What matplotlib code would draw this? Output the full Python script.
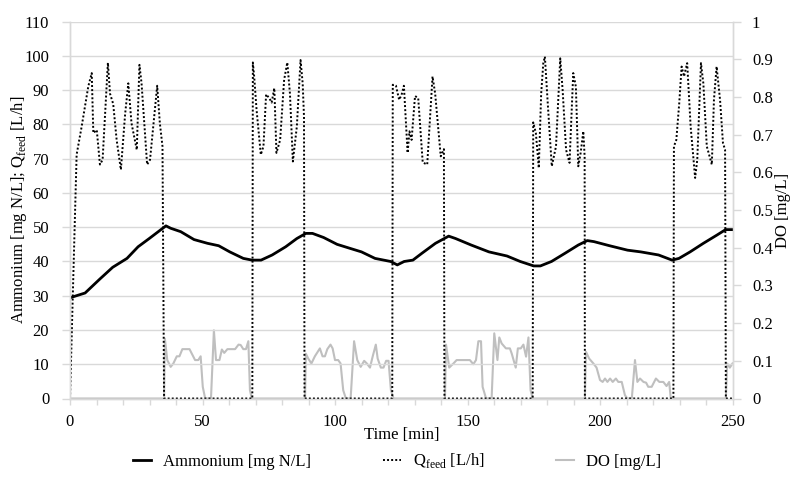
import matplotlib
matplotlib.use("Agg")
import matplotlib.pyplot as plt
from matplotlib.ticker import MultipleLocator, FuncFormatter

plt.rcParams['font.family'] = ['Liberation Serif', 'DejaVu Serif']
plt.rcParams['mathtext.fontset'] = 'custom'
plt.rcParams['mathtext.rm'] = 'Liberation Serif'
plt.rcParams['font.size'] = 12

# ---- data ----
amm_t = [0, 2, 5.7, 11.3, 16.1, 21.5, 25.7, 29.9, 33.3, 36.2, 38.0, 41.8, 46.8, 51.9, 56.1,
         60.3, 65.4, 68.7, 72.1, 76.3, 81.4, 85.6, 89.0, 91.5, 95.7, 100.8, 105.8, 110.0,
         115.1, 121.0, 123.5, 126.1, 129.4, 132.8, 137.9, 142.9, 145.5, 151.4, 158.1, 164.9,
         169.9, 175.0, 177.5, 181.7, 186.8, 191.8, 195.2, 197.7, 203.6, 210.4, 215.4, 222.1,
         227.2, 229.8, 234.0, 239.0, 244.1, 247.4, 250]
amm_v = [29.4, 29.9, 30.8, 34.9, 38.3, 40.9, 44.3, 46.7, 48.7, 50.4, 49.7, 48.7, 46.4, 45.3, 44.6,
         42.8, 40.9, 40.4, 40.4, 41.9, 44.3, 46.7, 48.2, 48.2, 47.0, 45.0, 43.8, 42.8,
         40.9, 40.0, 39.0, 40.0, 40.4, 42.4, 45.3, 47.4, 46.7, 44.8, 42.8, 41.6,
         40.0, 38.7, 38.7, 40.0, 42.4, 44.8, 46.1, 45.8, 44.6, 43.3, 42.8, 41.9,
         40.4, 40.9, 42.8, 45.3, 47.7, 49.3, 49.3]

q_t = [0, 2.5, 4.4, 6.9, 8.2, 8.8, 10.1, 11.3, 12.3, 14.3, 15.1, 16.3, 17.6, 19.2, 20.8, 22.0,
       23.2, 25.2, 26.2, 27.0, 29.1, 30.2, 32.9, 33.9, 34.9, 35.5,
       68.8, 69.0, 69.5, 70.4, 72.0, 73.0, 74.0, 75.2, 76.1, 77.1, 77.9, 79.3, 80.8, 82.0, 83.0,
       84.1, 85.6, 87.0, 87.8, 88.3, 88.5,
       121.6, 121.8, 123.0, 124.2, 125.1, 126.0, 127.4, 128.1, 128.9, 130.2, 131.4, 133.1, 134.8,
       136.8, 137.8, 139.9, 141.1, 141.3,
       174.6, 174.8, 175.8, 176.9, 177.8, 178.6, 179.2, 180.2, 181.8, 183.4, 185.0, 185.9, 187.2,
       188.5, 189.9, 190.9, 191.8, 192.7, 193.7, 194.2, 194.3,
       227.7, 227.9, 228.8, 229.9, 230.8, 231.7, 232.3, 232.9, 234.2, 235.9, 236.7, 238.1, 239.0,
       240.3, 242.2, 243.0, 244.0, 245.3, 246.4, 247.2, 247.5, 250]
q_v = [0, 71.2, 79.4, 91.1, 95.0, 77.5, 78.4, 68.3, 69.7, 98.0, 89.0, 86.0, 75.5, 66.8, 83.0, 92.0,
       80.4, 72.6, 97.4, 92.0, 68.3, 69.7, 91.3, 80.4, 73.6, 0,
       0, 98.1, 94.0, 84.3, 71.2, 73.6, 88.8, 87.7, 86.4, 90.6, 71.7, 75.5, 93.0, 98.1, 89.0,
       69.2, 79.4, 98.8, 92.0, 82.3, 0,
       0, 91.6, 91.3, 87.2, 88.6, 91.3, 71.7, 78.0, 75.5, 88.3, 87.7, 68.9, 68.3,
       94.0, 89.0, 70.7, 72.8, 0,
       0, 80.6, 77.5, 67.3, 89.0, 97.9, 99.8, 87.2, 67.8, 73.6, 99.3, 90.0, 72.6,
       68.8, 95.0, 91.0, 67.8, 71.7, 78.0, 70.7, 0,
       0, 73.6, 75.5, 86.2, 96.9, 94.0, 96.0, 97.9, 79.4, 64.4, 69.7, 97.9, 92.0,
       73.6, 68.3, 87.2, 96.9, 87.2, 74.6, 72.6, 0, 0]

do_t = [0, 35.5, 35.8, 36.7, 38.0, 39.0, 40.3, 41.3, 42.4, 45.1, 47.2, 48.4, 49.3, 50.1, 51.0,
        53.2, 54.3, 55.1, 56.4, 57.3, 58.2, 59.4, 62.3, 63.6, 64.4, 65.4, 66.4, 67.3, 67.9, 68.6,
        88.7, 89.0, 89.9, 91.1, 92.4, 94.3, 95.3, 96.2, 97.1, 98.3, 99.1, 100.0, 101.2, 102.1,
        103.1, 104.1, 105.9, 107.2, 108.4, 109.7, 111.0, 112.0, 113.2, 114.2, 115.4, 116.1,
        117.3, 118.3, 119.3, 120.2, 121.1, 122.1,
        141.5, 141.9, 143.1, 144.7, 145.9, 150.9, 152.2, 153.2, 154.1, 155.1, 155.7, 157.0,
        159.1, 160.1, 161.3, 162.0, 162.9, 164.5, 166.0, 166.7, 168.2, 169.0, 170.1, 171.1,
        172.1, 173.0, 173.8, 174.6,
        194.3, 194.7, 195.9, 197.5, 198.7, 200.0, 201.0, 201.9, 202.8, 203.8, 204.8, 206.0,
        206.9, 208.2, 209.4, 210.3, 212.0, 213.2, 214.1, 215.1, 216.4, 217.4, 218.2, 219.5,
        221.1, 222.4, 223.9, 225.1, 226.1, 226.7,
        247.5, 248.0, 249.0, 250]
do_v = [0, 0, 0.159, 0.102, 0.084, 0.093, 0.112, 0.112, 0.131, 0.131, 0.102, 0.102, 0.112, 0.031, 0,
        0, 0.181, 0.102, 0.102, 0.130, 0.121, 0.131, 0.131, 0.143, 0.142, 0.131, 0.131, 0.152, 0.022, 0,
        0, 0.119, 0.106, 0.093, 0.112, 0.133, 0.112, 0.112, 0.131, 0.143, 0.133, 0.102, 0.102, 0.093,
        0.022, 0, 0, 0.152, 0.102, 0.084, 0.100, 0.093, 0.082, 0.111, 0.143, 0.106,
        0.082, 0.082, 0.100, 0.100, 0.022, 0,
        0, 0.143, 0.082, 0.093, 0.102, 0.102, 0.091, 0.102, 0.152, 0.152, 0.031, 0,
        0, 0.173, 0.102, 0.162, 0.146, 0.133, 0.133, 0.119, 0.082, 0.133, 0.133, 0.143,
        0.111, 0.162, 0.022, 0,
        0, 0.124, 0.106, 0.093, 0.082, 0.049, 0.044, 0.053, 0.044, 0.053, 0.044, 0.053,
        0.044, 0.044, 0.009, 0, 0, 0.102, 0.044, 0.053, 0.044, 0.042, 0.031, 0.031,
        0.053, 0.044, 0.044, 0.033, 0.044, 0,
        0, 0.093, 0.082, 0.093]

x_ticks = [0, 50, 100, 150, 200, 250]
left_ticks = list(range(0, 111, 10))
right_ticks = [i / 10 for i in range(11)]

grid_c = '#d9d9d9'
txt_c = '#000000'

W, H = 790, 487
fig = plt.figure(figsize=(W / 100, H / 100), dpi=100)
x0, x1, y0, y1 = 70, 732.5, 398.5, 21.7
ax = fig.add_axes([x0 / W, 1 - y0 / H, (x1 - x0) / W, (y0 - y1) / H])
ax2 = ax.twinx()
ax.set_zorder(ax2.get_zorder() + 1)
ax.patch.set_visible(False)

l_do, = ax2.plot(do_t, do_v, color='#bfbfbf', lw=1.5, label='DO [mg/L]')
l_q, = ax.plot(q_t, q_v, color='black', lw=1.4, linestyle=(0, (1, 1.1)),
               label=r'Q$_{\mathregular{feed}}$ [L/h]')
l_a, = ax.plot(amm_t, amm_v, color='black', lw=2.0, label='Ammonium [mg N/L]')

ax.set_xlim(0, 250)
ax.set_ylim(0, 110)
ax2.set_ylim(0, 1)
ax.set_xticks(x_ticks)
ax.xaxis.set_minor_locator(MultipleLocator(10))
ax.set_yticks(left_ticks)
ax2.set_yticks(right_ticks)
ax2.yaxis.set_major_formatter(FuncFormatter(lambda v, p: f"{v:g}"))

ax.grid(axis='y', color=grid_c, lw=1.0)
ax.set_axisbelow(True)
for a in (ax, ax2):
    a.spines['top'].set_visible(False)
    for s in ('left', 'right', 'bottom'):
        a.spines[s].set_color(grid_c)
        a.spines[s].set_linewidth(1.0)
ax.tick_params(axis='x', which='both', color=grid_c, length=4, width=1, labelcolor=txt_c, pad=7)
ax.tick_params(axis='y', color=grid_c, length=6, width=1, labelcolor=txt_c, pad=9)
ax2.tick_params(axis='y', color=grid_c, length=6, width=1, labelcolor=txt_c, pad=8)

ax.set_xlabel('Time [min]')
ax.xaxis.set_label_coords(0.5, -(427 - y0) / (y0 - y1))
ax.set_ylabel(r'Ammonium [mg N/L]; Q$_{\mathregular{feed}}$ [L/h]')
ax.yaxis.set_label_coords((29 - x0) / (x1 - x0), 0.5)
ax2.set_ylabel('DO [mg/L]', rotation=90)
ax2.yaxis.set_label_coords((775 - x0) / (x1 - x0), 0.5)

fig.legend(handles=[l_a, l_q, l_do], loc='center', bbox_to_anchor=(397 / W, 1 - 461 / H),
           ncol=3, frameon=False, handlelength=1.1, columnspacing=4.3, handletextpad=0.7)

fig.savefig('out.png', dpi=100)
